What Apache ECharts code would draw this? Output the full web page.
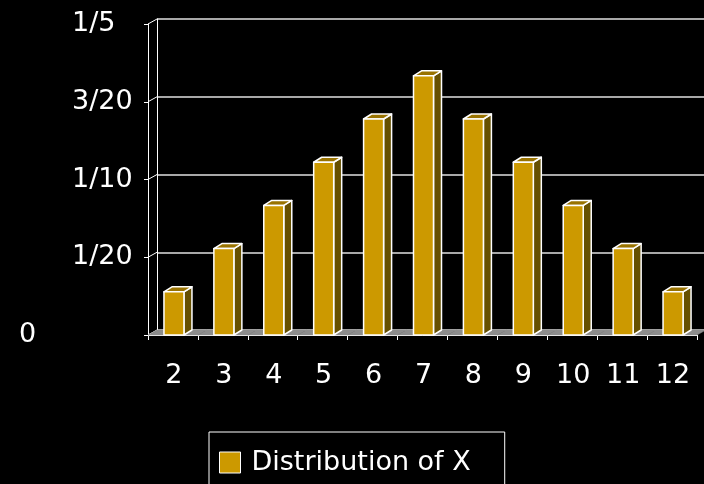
<!DOCTYPE html>
<html>
<head>
<meta charset="utf-8">
<script src="https://cdn.jsdelivr.net/npm/echarts@6/dist/echarts.min.js"></script>
<style>
html,body{margin:0;padding:0;background:#000;}
#chart{width:704px;height:484px;}
</style>
</head>
<body>
<div id="chart"></div>
<script>
const categories = ['2','3','4','5','6','7','8','9','10','11','12'];
const probabilities = [0.0278, 0.0556, 0.0833, 0.1111, 0.1389, 0.1667, 0.1389, 0.1111, 0.0833, 0.0556, 0.0278];
const yTickValues = [0, 0.05, 0.1, 0.15, 0.2];
const yTickLabels = ['0', '1/20', '1/10', '3/20', '1/5'];
const seriesName = 'Distribution of X';

const FONT = '"DejaVu Sans", sans-serif';
const DEPTH_X = 9, DEPTH_Y = 5;
const BAR_DX = 8, BAR_DY = 5;

function tickLabel(v) {
  for (let i = 0; i < yTickValues.length; i++) {
    if (Math.abs(yTickValues[i] - v) < 1e-9) return yTickLabels[i];
  }
  return '';
}

const chart = echarts.init(document.getElementById('chart'), null, {renderer: 'canvas'});
chart.setOption({
  backgroundColor: '#000',
  animation: false,
  grid: [
    {left: 148, top: 24, width: 549, height: 311},
    {left: 148 + DEPTH_X, top: 24 - DEPTH_Y, width: 549, height: 311}
  ],
  legend: {
    data: [seriesName],
    left: 209, top: 432,
    borderColor: '#fff', borderWidth: 1,
    padding: [17, 34, 16, 10],
    itemWidth: 21, itemHeight: 21,
    icon: 'rect',
    itemStyle: {borderColor: '#fff', borderWidth: 1},
    textStyle: {color: '#fff', fontSize: 27, fontFamily: FONT, padding: [0, 0, 0, 6]}
  },
  xAxis: [
    {
      type: 'category', gridIndex: 0, data: categories, boundaryGap: true,
      axisLine: {show: true, lineStyle: {color: '#fff', width: 1}},
      axisTick: {show: true, length: 5, lineStyle: {color: '#fff'}},
      axisLabel: {color: '#fff', fontSize: 27, fontFamily: FONT, margin: 27, padding: [0, 0, 0, 2]},
      splitLine: {show: false}
    },
    {
      type: 'category', gridIndex: 1, data: categories, show: false
    }
  ],
  yAxis: [
    {
      type: 'value', gridIndex: 0, min: 0, max: 0.2, interval: 0.05, position: 'left',
      axisLine: {show: true, lineStyle: {color: '#fff', width: 1}},
      axisTick: {show: true, length: 4, lineStyle: {color: '#fff'}},
      axisLabel: {
        color: '#fff', fontSize: 27, fontFamily: FONT, align: 'left', margin: 76,
        formatter: v => (v === 0 ? '' : tickLabel(v))
      },
      splitLine: {show: false}
    },
    {
      type: 'value', gridIndex: 0, min: 0, max: 0.2, interval: 0.05, position: 'left',
      axisLine: {show: false}, axisTick: {show: false},
      axisLabel: {
        color: '#fff', fontSize: 27, fontFamily: FONT, align: 'left', margin: 129,
        formatter: v => (v === 0 ? tickLabel(v) : '')
      },
      splitLine: {show: false}
    },
    {
      type: 'value', gridIndex: 1, min: 0, max: 0.2, interval: 0.05, position: 'left',
      axisLine: {show: true, lineStyle: {color: '#fff', width: 1}},
      axisTick: {show: false}, axisLabel: {show: false},
      splitLine: {show: true, lineStyle: {color: '#e0e0e0', width: 1.5}}
    }
  ],
  series: [
    {
      // left side wall connectors (front tick -> back gridline)
      type: 'custom', xAxisIndex: 0, yAxisIndex: 0, silent: true, z: 3,
      data: yTickValues.map(v => [0, v]),
      encode: {x: 0, y: 1},
      renderItem: function (params, api) {
        const cs = params.coordSys;
        const p = api.coord([api.value(0), api.value(1)]);
        return {
          type: 'line',
          shape: {x1: cs.x, y1: p[1], x2: cs.x + DEPTH_X, y2: p[1] - DEPTH_Y},
          style: {stroke: '#fff', lineWidth: 1}
        };
      }
    },
    {
      // floor
      type: 'custom', xAxisIndex: 0, yAxisIndex: 0, silent: true, z: 3,
      data: categories.map((c, i) => [i, 0]),
      encode: {x: 0, y: 1},
      renderItem: function (params, api) {
        const p = api.coord([api.value(0), 0]);
        const w = api.size([1, 0])[0];
        const l = p[0] - w / 2, r = p[0] + w / 2;
        return {
          type: 'polygon',
          shape: {points: [[l, p[1]], [r, p[1]], [r + DEPTH_X, p[1] - DEPTH_Y], [l + DEPTH_X, p[1] - DEPTH_Y]]},
          style: {fill: '#8c8c8c', stroke: '#8c8c8c', lineWidth: 0.5}
        };
      }
    },
    {
      name: seriesName,
      type: 'custom', xAxisIndex: 0, yAxisIndex: 0, z: 5,
      itemStyle: {color: '#CC9900', borderColor: '#fff', borderWidth: 1},
      data: probabilities.map((v, i) => [i, v]),
      encode: {x: 0, y: 1},
      renderItem: function (params, api) {
        const top = api.coord([api.value(0), api.value(1)]);
        const base = api.coord([api.value(0), 0]);
        const l = top[0] - 9, r = top[0] + 11;
        const yt = top[1], yb = base[1];
        const st = {stroke: '#fff', lineWidth: 1.5, lineJoin: 'round'};
        return {
          type: 'group',
          children: [
            {type: 'polygon', shape: {points: [[r, yb], [r, yt], [r + BAR_DX, yt - BAR_DY], [r + BAR_DX, yb - BAR_DY]]},
             style: Object.assign({fill: '#665000'}, st)},
            {type: 'polygon', shape: {points: [[l, yt], [r, yt], [r + BAR_DX, yt - BAR_DY], [l + BAR_DX, yt - BAR_DY]]},
             style: Object.assign({fill: '#997300'}, st)},
            {type: 'rect', shape: {x: l, y: yt, width: r - l, height: yb - yt},
             style: Object.assign({fill: '#CC9900'}, st)}
          ]
        };
      }
    }
  ]
});
</script>
</body>
</html>
